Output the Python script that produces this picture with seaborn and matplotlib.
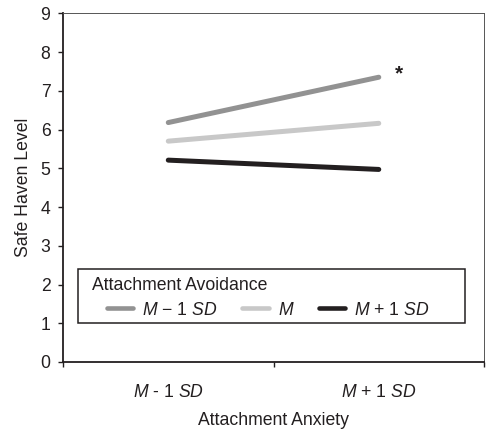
import pandas as pd
import matplotlib
matplotlib.use('Agg')
import matplotlib.pyplot as plt
from matplotlib.patches import Rectangle
import seaborn as sns

sns.set_theme(style='white')
plt.rcParams['font.family'] = ['Liberation Sans', 'DejaVu Sans']
plt.rcParams['mathtext.fontset'] = 'custom'
plt.rcParams['mathtext.rm'] = 'Liberation Sans'
plt.rcParams['mathtext.it'] = 'Liberation Sans:italic'

# ── Data ──────────────────────────────────────────────────────────────────────
anxiety = ['M - 1 SD', 'M + 1 SD']
avoid_low = [6.18, 7.35]
avoid_mean = [5.70, 6.16]
avoid_high = [5.21, 4.97]
groups = ['low', 'mean', 'high']
group_labels = [r'$\mathit{M}$ − 1 $\mathit{SD}$', r'$\mathit{M}$',
                r'$\mathit{M}$ + 1 $\mathit{SD}$']
x_labels = [r'$\mathit{M}$ - 1 $\mathit{SD}$', r'$\mathit{M}$ + 1 $\mathit{SD}$']

df = pd.DataFrame({
    'Anxiety': anxiety * 3,
    'Safe': avoid_low + avoid_mean + avoid_high,
    'Group': [g for g in groups for _ in anxiety],
})
palette = {'low': '#929292', 'mean': '#c8c8c8', 'high': '#231f20'}
INK = '#231f20'
FS = 12.7

# ── Plot ──────────────────────────────────────────────────────────────────────
fig = plt.figure(figsize=(4.87, 4.29), dpi=100)
ax = fig.add_axes([0.1294, 0.1562, 0.8645, 0.8128])
sns.lineplot(data=df, x='Anxiety', y='Safe', hue='Group', palette=palette,
             linewidth=3.6, solid_capstyle='round', ax=ax, legend=False)

# significance marker next to the M - 1 SD avoidance line
ax.annotate('*', xy=(1, avoid_low[1]), xytext=(14.5, 2.5),
            textcoords='offset points', fontsize=15, fontweight='bold',
            color=INK, ha='center', va='center')

ax.set_xlim(-0.5, 1.5)
ax.set_ylim(0, 9)
ax.set_yticks(range(0, 10))
ax.set_xticks([-0.5, 0.5, 1.5])
ax.set_xticklabels([])
ax.set_xticks([0, 1], minor=True)
ax.set_xticklabels(x_labels, minor=True)
ax.tick_params(axis='x', which='minor', length=0, pad=15.5, labelsize=FS,
               colors=INK)
ax.tick_params(axis='x', which='major', length=3.5, width=1, direction='out',
               bottom=True, color=INK)
ax.tick_params(axis='y', length=3.6, width=1, direction='out', left=True,
               labelsize=FS, colors=INK, pad=5.5)

for s in ['top', 'right']:
    ax.spines[s].set_color('#555555')
    ax.spines[s].set_linewidth(0.7)
for s in ['left', 'bottom']:
    ax.spines[s].set_color(INK)
    ax.spines[s].set_linewidth(1.3)

ax.set_xlabel('Attachment Anxiety', fontsize=FS, color=INK, labelpad=8)
ax.set_ylabel('Safe Haven Level', fontsize=FS, color=INK, labelpad=6)

# ── Legend box ────────────────────────────────────────────────────────────────
ax.add_patch(Rectangle((0.0356, 0.1117), 0.919, 0.1547, transform=ax.transAxes,
                       fill=True, facecolor='white', edgecolor=INK,
                       linewidth=1.1, zorder=3))
ax.text(0.0689, 0.2206, 'Attachment Avoidance', transform=ax.transAxes,
        fontsize=FS, color=INK, ha='left', va='center', zorder=4)
handles = [plt.Line2D([], [], color=palette[g], linewidth=3.3) for g in groups]
leg = ax.legend(handles, group_labels, ncol=3, loc='center left',
                bbox_to_anchor=(0.1045, 0.149), frameon=False, fontsize=FS,
                handlelength=1.5, handletextpad=0.5, columnspacing=1.4,
                borderpad=0, borderaxespad=0, labelcolor=INK)
leg.set_zorder(5)

plt.savefig('out.png', dpi=100)
